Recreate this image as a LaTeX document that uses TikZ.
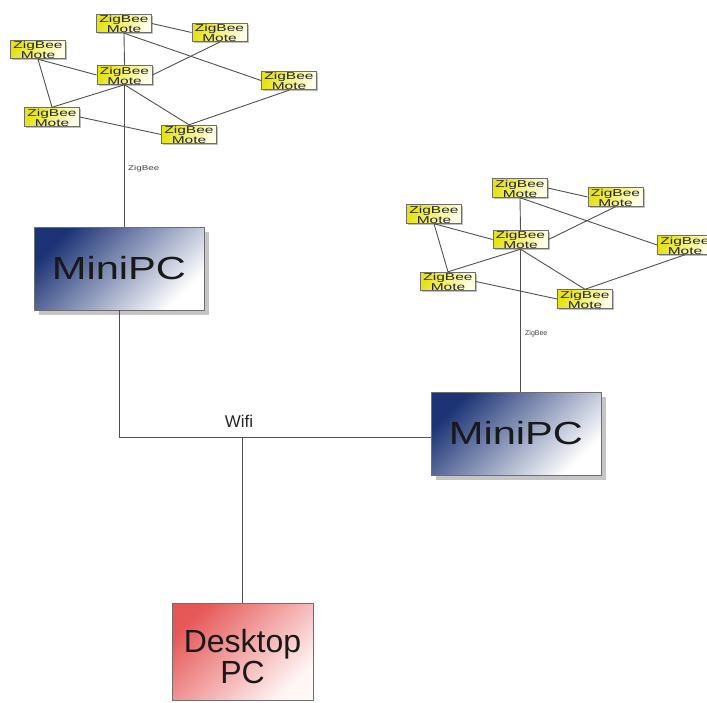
\documentclass[tikz,border=0pt]{standalone}
\usepackage{fontspec}
\setmainfont{Liberation Sans}
\usetikzlibrary{shadows,calc}
\definecolor{navy}{RGB}{28,52,118}
\definecolor{moteyel}{RGB}{230,226,20}
\definecolor{motewhite}{RGB}{255,255,232}
\definecolor{deskred}{RGB}{230,88,88}
\definecolor{deskwhite}{RGB}{255,246,246}
\definecolor{linegray}{RGB}{80,80,80}
\definecolor{bordergray}{RGB}{110,110,110}
\newcommand\stretchtxt[2]{\scalebox{#1}[1]{#2}}
\newcommand\motetext{\rule{0pt}{8.6pt}\stretchtxt{1.55}{ZigBee}\\\stretchtxt{1.55}{Mote}}
\tikzset{
  link/.style={draw=linegray, line width=0.9pt},
  motebox/.style={draw=bordergray, line width=0.8pt, left color=moteyel, right color=motewhite,
    shading angle=60, minimum width=55pt, minimum height=17pt, inner sep=0pt, align=center,
    font=\fontsize{10}{8.4}\selectfont, text=black!85,
    drop shadow={shadow xshift=1.5pt, shadow yshift=-1.5pt, fill=gray, opacity=0.5}},
  pcbox/.style={draw=bordergray, line width=0.8pt, left color=navy, right color=white,
    shading angle=45, minimum width=170pt, minimum height=83pt, inner sep=0pt,
    font=\fontsize{32}{32}\selectfont, text=black!90,
    drop shadow={shadow xshift=5pt, shadow yshift=-5pt, fill=gray, opacity=0.45}},
  deskbox/.style={draw=bordergray, line width=0.8pt, left color=deskred, right color=deskwhite,
    shading angle=45, minimum width=141pt, minimum height=97pt, inner sep=0pt,
    font=\fontsize{32}{28}\selectfont, text=black!90},
  smalllabel/.style={font=\fontsize{7}{7}\selectfont, text=black!75, inner sep=0pt},
  wifilabel/.style={font=\fontsize{17}{17}\selectfont, text=black!85, inner sep=0pt},
}
\newcommand\motecluster[3]{%
  \node[motebox] (#1A) at (124+#2, 23.5+#3) {\motetext};
  \node[motebox] (#1B) at (219.5+#2, 32.5+#3) {\motetext};
  \node[motebox] (#1C) at (38+#2, 49.5+#3) {\motetext};
  \node[motebox] (#1D) at (124.5+#2, 75+#3) {\motetext};
  \node[motebox] (#1E) at (289+#2, 80.5+#3) {\motetext};
  \node[motebox] (#1F) at (52+#2, 117+#3) {\motetext};
  \node[motebox] (#1G) at (189+#2, 134.5+#3) {\motetext};
  \draw[link] (#1A.east) -- (#1B.west);
  \draw[link] (#1A.south) -- (#1E.west);
  \draw[link] (#1A.south) -- (#1D.north);
  \draw[link] (#1C.south) -- (#1D.west);
  \draw[link] (#1C.south) -- (#1F.north);
  \draw[link] (#1D.east) -- (#1B.south);
  \draw[link] (#1D.south) -- (#1F.north);
  \draw[link] (#1D.south) -- (#1G.north);
  \draw[link] (#1F.east) -- (#1G.west);
  \draw[link] (#1G.north) -- (#1E.south);
}
\begin{document}
\begin{tikzpicture}[x=1pt, y=-1pt]
  \useasboundingbox (0,0) rectangle (707,702);
  \clip (0,0) rectangle (707,702);
  \fill[white] (0,0) rectangle (707,702);

  \motecluster{a}{0}{0}
  \motecluster{b}{396}{164.5}

  \node[pcbox] (M1) at (119,268.5) {\stretchtxt{1.3}{MiniPC}};
  \node[pcbox] (M2) at (516,433.5) {\stretchtxt{1.3}{MiniPC}};
  \node[deskbox] (DPC) at (242.5,651.5)
    {\raisebox{-9pt}[\height][\depth]{\begin{tabular}{@{}c@{}}Desktop\\PC\end{tabular}}};

  \draw[link] (aD.south) -- (aD.south |- M1.north);
  \draw[link] (bD.south) -- (bD.south |- M2.north);
  \node[smalllabel, anchor=west] (zl1) at (128,169) {\stretchtxt{1.4}{ZigBee}};
  \node[smalllabel, anchor=west] (zl2) at (525,334) {ZigBee};

  \draw[link] (M1.south) |- ([yshift=-4pt]M2.west);
  \coordinate (J) at (242.5,437.5);
  \draw[link] (J) -- (DPC.north);
  \node[wifilabel] (wifi) at (239,421) {Wifi};
\end{tikzpicture}
\end{document}
